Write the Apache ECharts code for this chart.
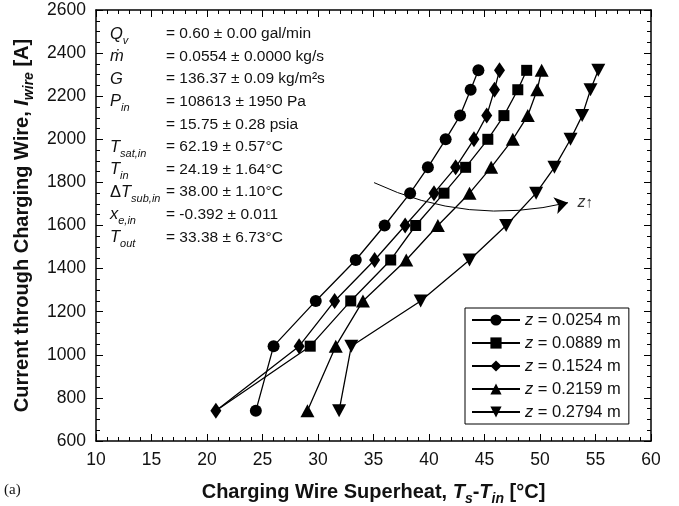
<!DOCTYPE html>
<html><head><meta charset="utf-8">
<script src="https://cdn.jsdelivr.net/npm/echarts@6/dist/echarts.min.js"></script>
<style>html,body{margin:0;padding:0;background:#fff;}#c{width:679px;height:506px;}</style>
</head><body><div id="c"></div>
<script>
// ---- data ----
const current = [740, 1040, 1250, 1440, 1600, 1750, 1870, 2000, 2110, 2230, 2320];
const zLabels = ['0.0254', '0.0889', '0.1524', '0.2159', '0.2794'];
const sh_z0254 = [24.4, 26.0, 29.8, 33.4, 36.0, 38.3, 39.9, 41.5, 42.8, 43.75, 44.45];
const sh_z0889 = [20.8, 29.3, 32.95, 36.55, 38.8, 41.35, 43.3, 45.3, 46.75, 48.0, 48.8];
const sh_z1524 = [20.8, 28.3, 31.5, 35.1, 37.85, 40.45, 42.4, 44.05, 45.2, 45.9, 46.35];
const sh_z2159 = [29.05, 31.6, 34.05, 37.95, 40.8, 43.65, 45.6, 47.55, 48.9, 49.75, 50.15];
const sh_z2794 = [31.9, 33.0, 39.25, 43.65, 46.95, 49.65, 51.3, 52.75, 53.8, 54.55, 55.25];
const xTicks = [10, 15, 20, 25, 30, 35, 40, 45, 50, 55, 60];
const yTicks = [600, 800, 1000, 1200, 1400, 1600, 1800, 2000, 2200, 2400, 2600];
const arrowPath = [[35.05, 1799], [52.52, 1706]];
const arrowLabelAt = [53.2, 1706];
const infoNames = ['{i|Q}{s|v}', '{i|ṁ}', '{i|G}', '{i|P}{s|in}', '', '{i|T}{s|sat,in}', '{i|T}{s|in}', 'Δ{i|T}{s|sub,in}', '{i|x}{s|e,in}', '{i|T}{s|out}'];
const infoValues = ['= 0.60 ± 0.00 gal/min', '= 0.0554 ± 0.0000 kg/s', '= 136.37 ± 0.09 kg/m²s', '= 108613 ± 1950 Pa', '= 15.75 ± 0.28 psia', '= 62.19 ± 0.57°C', '= 24.19 ± 1.64°C', '= 38.00 ± 1.10°C', '= -0.392 ± 0.011', '= 33.38 ± 6.73°C'];

// ---- chart ----
const FF = '"Liberation Sans", Arial, Helvetica, sans-serif';
const seriesX = [sh_z0254, sh_z0889, sh_z1524, sh_z2159, sh_z2794];
const symbols = [
  {symbol: 'circle', symbolSize: 12, rot: 0},
  {symbol: 'rect', symbolSize: 11, rot: 0},
  {symbol: 'diamond', symbolSize: [11, 16], rot: 0},
  {symbol: 'triangle', symbolSize: [14, 13], rot: 0},
  {symbol: 'triangle', symbolSize: [14, 13], rot: 180}
];
const names = zLabels.map(z => 'z = ' + z + ' m');
const series = seriesX.map((xs, k) => ({
  type: 'line',
  name: names[k],
  xAxisIndex: 0, yAxisIndex: 0,
  data: xs.map((x, i) => {
    const d = {value: [x, current[i]]};
    if (k === 1 && i === 0) d.symbolSize = 0; // hidden behind diamond in reference
    return d;
  }),
  symbol: symbols[k].symbol,
  symbolSize: symbols[k].symbolSize,
  symbolRotate: symbols[k].rot,
  showAllSymbol: true,
  lineStyle: {color: '#000', width: 1.3},
  itemStyle: {color: '#000'},
  z: 3 + k,
  animation: false
}));
series.push({
  type: 'lines',
  coordinateSystem: 'cartesian2d',
  xAxisIndex: 0, yAxisIndex: 0,
  polyline: false,
  symbol: ['none', 'arrow'],
  symbolSize: 13,
  lineStyle: {color: '#000', width: 1, curveness: -0.175, opacity: 1},
  data: [{coords: arrowPath}],
  silent: true,
  animation: false
});
series.push({
  type: 'scatter',
  xAxisIndex: 0, yAxisIndex: 0,
  data: [arrowLabelAt],
  symbolSize: 0,
  label: {
    show: true, position: 'right', distance: 2,
    formatter: '{i|z}↑',
    color: '#000', fontSize: 15, fontFamily: FF,
    rich: {i: {fontStyle: 'italic', fontSize: 16, fontFamily: FF, color: '#000'}}
  },
  silent: true,
  animation: false
});

const rowTop = 24, rowStep = 22.6;
const infoRich = {
  i: {fontStyle: 'italic', fontSize: 16.5, fontFamily: FF, color: '#111', lineHeight: 24, verticalAlign: 'middle'},
  s: {fontStyle: 'italic', fontSize: 11, fontFamily: FF, color: '#111', lineHeight: 12, verticalAlign: 'bottom'}
};
const graphics = [];
infoNames.forEach((n, i) => {
  if (n) graphics.push({
    type: 'text', left: 110, top: rowTop + i * rowStep - 2,
    style: {text: n, font: '16.5px ' + FF, fill: '#111', rich: infoRich, lineHeight: 24}
  });
  graphics.push({
    type: 'text', left: 166, top: rowTop + i * rowStep + 2,
    style: {text: infoValues[i], font: '15.5px ' + FF, fill: '#111'}
  });
});
graphics.push({type: 'text', left: 4, top: 483, style: {text: '(a)', font: '15px "Liberation Serif", "Times New Roman", serif', fill: '#111'}});

const axisCommon = {
  type: 'value',
  axisLine: {show: true, onZero: false, lineStyle: {color: '#000', width: 1.5}},
  axisTick: {show: true, inside: true, length: 7, lineStyle: {color: '#000', width: 1}},
  minorTick: {show: true, length: 4, lineStyle: {color: '#000', width: 1}},
  splitLine: {show: false},
  minorSplitLine: {show: false}
};
const nameRich = {
  i: {fontStyle: 'italic', fontWeight: 'bold', fontSize: 20, fontFamily: FF, color: '#111', lineHeight: 28},
  s: {fontStyle: 'italic', fontWeight: 'bold', fontSize: 14, fontFamily: FF, color: '#111', lineHeight: 14, verticalAlign: 'bottom'}
};
const option = {
  backgroundColor: '#fff',
  animation: false,
  grid: {left: 96, right: 28, top: 10, bottom: 65, containLabel: false, outerBoundsMode: 'none'},
  xAxis: [
    Object.assign({}, axisCommon, {
      min: xTicks[0], max: xTicks[xTicks.length - 1], interval: xTicks[1] - xTicks[0],
      position: 'bottom',
      minorTick: Object.assign({}, axisCommon.minorTick, {splitNumber: 5}),
      axisLabel: {color: '#111', fontSize: 17.5, fontFamily: FF, margin: 10, formatter: v => String(v)},
      name: 'Charging Wire Superheat, {i|T}{s|s}-{i|T}{s|in} [°C]',
      nameLocation: 'middle', nameGap: 37,
      nameTextStyle: {fontWeight: 'bold', fontSize: 20, fontFamily: FF, color: '#111', lineHeight: 28, rich: nameRich}
    }),
    Object.assign({}, axisCommon, {
      min: xTicks[0], max: xTicks[xTicks.length - 1], interval: xTicks[1] - xTicks[0],
      position: 'top',
      minorTick: Object.assign({}, axisCommon.minorTick, {splitNumber: 5}),
      axisLabel: {show: false}
    })
  ],
  yAxis: [
    Object.assign({}, axisCommon, {
      min: yTicks[0], max: yTicks[yTicks.length - 1], interval: yTicks[1] - yTicks[0],
      position: 'left',
      minorTick: Object.assign({}, axisCommon.minorTick, {splitNumber: 4}),
      axisLabel: {color: '#111', fontSize: 17.5, fontFamily: FF, margin: 10, formatter: v => String(v)},
      name: 'Current through Charging Wire, {i|I}{s|wire} [A]',
      nameLocation: 'middle', nameGap: 60,
      nameTextStyle: {fontWeight: 'bold', fontSize: 20, fontFamily: FF, color: '#111', lineHeight: 28, rich: nameRich}
    }),
    Object.assign({}, axisCommon, {
      min: yTicks[0], max: yTicks[yTicks.length - 1], interval: yTicks[1] - yTicks[0],
      position: 'right',
      minorTick: Object.assign({}, axisCommon.minorTick, {splitNumber: 4}),
      axisLabel: {show: false}
    })
  ],
  legend: {
    data: names,
    orient: 'vertical',
    left: 465, top: 308,
    padding: [3, 8, 3, 6],
    itemGap: 5,
    itemWidth: 48, itemHeight: 14,
    borderColor: '#000', borderWidth: 1,
    backgroundColor: '#fff',
    formatter: n => n.replace('z', '{i|z}'),
    textStyle: {fontSize: 16.5, lineHeight: 18, fontFamily: FF, color: '#111', rich: {i: {fontStyle: 'italic', fontSize: 16.5, lineHeight: 18, fontFamily: FF, color: '#111'}}},
    selectedMode: false
  },
  graphic: graphics,
  series: series
};
const chart = echarts.init(document.getElementById('c'), null, {renderer: 'canvas'});
chart.setOption(option);
</script></body></html>
